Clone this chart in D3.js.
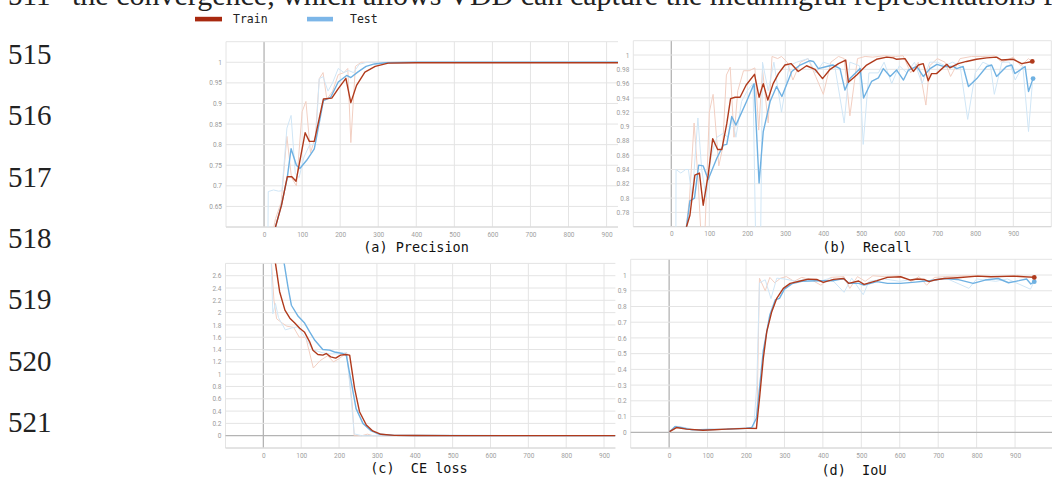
<!DOCTYPE html>
<html><head><meta charset="utf-8">
<script src="https://cdn.jsdelivr.net/npm/d3@7"></script>
<style>html,body{margin:0;padding:0;background:#fff;overflow:hidden}</style>
</head><body>
<svg id="c" width="1052" height="479"></svg>
<script>
// ---------- DATA ----------
const xTicks = [0,100,200,300,400,500,600,700,800,900];
const lineNumbers = ["515","516","517","518","519","520","521"];
const topLineNumber = "511";
const topLineText = "the convergence, which allows VDD can capture the meaningful representations for feature";
const legendLabels = ["Train","Test"];
const panelTitles = ["(a) Precision","(b)  Recall","(c)  CE loss","(d)  IoU"];

const precisionTicks = [0.65,0.7,0.75,0.8,0.85,0.9,0.95,1];
const precisionTicksLbl = ["0.65","0.7","0.75","0.8","0.85","0.9","0.95","1"];
const precisionTrainX = [25,30,46,61,73,84,108,119,132,156,178,195,215,228,243,265,292,326,400,500,600,700,800,900,930];
const precisionTrainY = [0.585,0.60,0.653,0.722,0.722,0.711,0.829,0.808,0.808,0.911,0.913,0.936,0.961,0.902,0.944,0.976,0.990,0.998,0.999,0.999,0.999,0.999,0.999,0.999,0.999];
const precisionTestX = [25,30,46,61,71,85,94,112,132,156,175,195,217,228,246,268,290,320,400,930];
const precisionTestY = [0.585,0.60,0.655,0.72,0.79,0.75,0.742,0.762,0.79,0.907,0.915,0.952,0.968,0.963,0.976,0.99,0.996,0.999,1.0,1.0];
const precisionTrainRawX = [15,30,45,60,72,85,100,110,122,135,145,155,165,180,195,210,220,228,240,255,270,300,930];
const precisionTrainRawY = [0.55,0.62,0.66,0.82,0.72,0.70,0.88,0.905,0.78,0.82,0.96,0.975,0.91,0.93,0.97,0.975,0.985,0.805,0.99,1.0,1.0,1.0,1.0];
const precisionTestRawX = [10,11,25,38,47,60,71,82,92,105,120,135,145,155,168,180,195,210,222,235,250,270,300,930];
const precisionTestRawY = [0.55,0.686,0.69,0.687,0.688,0.84,0.871,0.73,0.72,0.77,0.8,0.8,0.96,0.965,0.93,0.95,0.985,0.975,0.98,0.975,0.995,1.0,1.0,1.0];

const recallTicks = [0.78,0.8,0.82,0.84,0.86,0.88,0.9,0.92,0.94,0.96,0.98,1];
const recallTicksLbl = ["0.78","0.8","0.82","0.84","0.86","0.88","0.9","0.92","0.94","0.96","0.98","1"];
const recallTrainX = [35,40,49,62,74,84,97,109,122,133,146,156,168,181,197,219,231,242,254,268,282,299,315,334,356,378,398,418,440,459,466,488,514,540,567,584,593,615,637,650,663,676,685,698,725,733,755,777,803,830,856,869,900,922,950];
const recallTrainY = [0.74,0.76,0.776,0.832,0.835,0.79,0.832,0.883,0.868,0.868,0.904,0.939,0.941,0.941,0.958,0.973,0.941,0.960,0.937,0.960,0.974,0.986,0.988,0.977,0.985,0.980,0.967,0.980,0.988,0.993,0.962,0.972,0.986,0.994,0.997,0.996,0.994,0.995,0.977,0.986,0.988,0.964,0.974,0.974,0.987,0.982,0.988,0.991,0.994,0.996,0.997,0.993,0.994,0.988,0.991];
const recallTestX = [35,49,61,72,84,97,120,137,146,159,170,198,218,231,242,260,277,291,317,339,365,374,387,409,426,444,457,470,497,506,527,545,558,576,593,611,624,646,663,681,699,716,742,751,768,782,804,830,843,856,882,896,904,931,940,952];
const recallTestY = [0.74,0.796,0.80,0.846,0.845,0.826,0.856,0.874,0.875,0.914,0.902,0.935,0.960,0.821,0.893,0.935,0.956,0.942,0.977,0.986,0.992,0.991,0.981,0.984,0.986,0.981,0.951,0.967,0.981,0.940,0.963,0.968,0.981,0.970,0.979,0.965,0.979,0.984,0.970,0.981,0.987,0.984,0.984,0.981,0.984,0.956,0.967,0.984,0.986,0.970,0.984,0.986,0.974,0.984,0.949,0.967];
const recallTrainRawX = [35,48,60,70,78,85,100,110,125,135,145,155,165,175,190,205,220,230,240,255,265,280,290,305,320,340,360,380,400,420,440,455,470,490,510,530,560,590,610,630,650,670,680,700,720,735,760,790,820,850,870,900,920,940,950];
const recallTrainRawY = [0.74,0.80,0.905,0.83,0.75,0.70,0.92,0.945,0.845,0.87,0.972,0.983,0.885,0.95,0.978,0.978,0.982,0.895,0.98,0.905,0.998,0.995,0.998,0.99,0.965,0.99,0.995,0.97,0.945,0.99,0.998,0.995,0.915,0.995,0.998,0.997,0.999,0.998,0.999,0.975,0.99,0.93,0.985,0.995,0.99,0.97,0.995,0.998,0.998,0.999,0.99,0.997,0.985,0.995,0.99];
const recallTestRawX = [12,12.5,25,38,45,55,70,80,92,105,120,135,150,160,170,185,200,215,222,235,240,255,270,290,310,330,360,380,400,430,455,470,495,505,520,545,560,580,600,620,640,660,680,700,720,740,760,780,800,820,840,850,870,890,905,925,940,950];
const recallTestRawY = [0.74,0.84,0.835,0.84,0.84,0.80,0.912,0.84,0.80,0.86,0.885,0.89,0.885,0.912,0.885,0.935,0.95,0.96,0.74,0.74,0.99,0.95,0.99,0.92,0.985,0.99,0.995,0.975,0.99,0.985,0.905,0.99,0.985,0.875,0.975,0.975,0.99,0.96,0.985,0.975,0.99,0.96,0.99,0.99,0.985,0.99,0.985,0.91,0.975,0.99,0.985,0.945,0.99,0.99,0.965,0.985,0.893,0.96];

const lossTicks = [0,0.2,0.4,0.6,0.8,1,1.2,1.4,1.6,1.8,2,2.2,2.4,2.6];
const lossTicksLbl = ["0","0.2","0.4","0.6","0.8","1","1.2","1.4","1.6","1.8","2","2.2","2.4","2.6"];
const lossTrainX = [20,32,43,57,70,83,96,109,122,131,144,157,166,178,191,204,217,228,241,254,272,289,311,346,400,500,600,700,800,900,930];
const lossTrainY = [3.4,2.80,2.34,2.04,1.91,1.83,1.745,1.68,1.53,1.39,1.32,1.31,1.335,1.28,1.26,1.31,1.32,1.31,0.77,0.39,0.174,0.077,0.023,0.005,0.002,0.001,0.001,0.001,0.001,0.001,0.001];
const lossTestX = [45,55,65,74,92,109,122,136,157,175,188,210,219,232,245,263,285,307,346,400,930];
const lossTestY = [3.4,2.80,2.42,2.12,1.94,1.83,1.69,1.55,1.40,1.39,1.36,1.335,1.31,0.88,0.44,0.20,0.077,0.023,0.005,0.002,0.001];
const lossTrainRawX = [15,28,35,50,62,80,95,112,132,150,170,185,200,220,235,240,260,275,290,930];
const lossTrainRawY = [3.4,2.2,1.9,1.83,1.78,1.76,1.60,1.60,1.10,1.22,1.30,1.20,1.25,1.35,0.5,0.0,0.0,0.025,0.0,0.0];
const lossTestRawX = [18,25,32,40,58,75,90,110,130,155,175,200,220,232,240,260,930];
const lossTestRawY = [3.4,1.98,2.15,1.92,1.72,1.75,1.77,1.60,1.40,1.35,1.33,1.33,1.35,0.6,0.03,0.0,0.0];

const iouTicks = [0,0.1,0.2,0.3,0.4,0.5,0.6,0.7,0.8,0.9,1];
const iouTicksLbl = ["0","0.1","0.2","0.3","0.4","0.5","0.6","0.7","0.8","0.9","1"];
const iouTrainX = [1,19,45,88,149,201,227,236,245,254,267,280,297,315,341,362,384,401,428,454,467,493,507,541,568,602,628,646,663,676,690,716,750,802,837,898,950];
const iouTrainY = [0.004,0.03,0.02,0.013,0.02,0.025,0.025,0.237,0.47,0.64,0.767,0.852,0.915,0.947,0.962,0.974,0.972,0.953,0.972,0.978,0.947,0.962,0.941,0.964,0.985,0.989,0.968,0.975,0.972,0.958,0.968,0.978,0.983,0.993,0.989,0.993,0.985];
const iouTestX = [1,15,30,60,100,150,200,215,227,236,245,262,276,287,300,320,345,384,428,454,467,493,507,541,568,602,640,680,716,750,791,822,856,883,910,930,941,950];
const iouTestY = [0.004,0.035,0.03,0.015,0.018,0.02,0.025,0.03,0.089,0.30,0.52,0.746,0.842,0.852,0.91,0.945,0.96,0.964,0.964,0.978,0.947,0.947,0.936,0.958,0.947,0.947,0.955,0.965,0.978,0.972,0.947,0.968,0.978,0.951,0.964,0.975,0.943,0.958];
const iouTrainRawX = [1,20,50,100,150,200,228,235,250,262,275,290,305,325,345,370,395,420,455,470,490,510,530,560,600,630,650,670,690,720,760,800,850,900,950];
const iouTrainRawY = [0.0,0.03,0.02,0.01,0.02,0.025,0.02,0.98,0.90,0.985,0.95,0.98,0.99,0.96,0.985,0.97,0.935,0.985,0.99,0.915,0.99,0.96,0.995,0.99,0.995,0.96,0.99,0.935,0.985,0.99,0.995,0.995,0.99,0.995,0.99];
const iouTestRawX = [1,15,40,80,150,200,220,228,235,250,265,280,300,330,360,390,420,455,475,505,520,560,600,640,680,720,780,800,850,880,940,950];
const iouTestRawY = [0.0,0.04,0.03,0.01,0.02,0.03,0.03,0.3,0.95,0.97,0.85,0.98,0.975,0.96,0.975,0.96,0.98,0.89,0.98,0.875,0.96,0.975,0.96,0.975,0.96,0.98,0.915,0.975,0.96,0.975,0.91,0.96];

// ---------- STYLE ----------
const RED = "#b03a1c", BLUE = "#6fb1e2", RED_RAW = "#f2cfc2", BLUE_RAW = "#d0e6f6";
const svg = d3.select("#c");

function zip(xs, ys){ return xs.map((x,i)=>[x, ys[i]]); }

function panel(cfg){
  const x = d3.scaleLinear().domain(cfg.xd).range(cfg.xr);
  const y = d3.scaleLinear().domain(cfg.yd).range(cfg.yr);
  const g = svg.append("g");
  const id = "clip" + cfg.key;
  svg.append("clipPath").attr("id", id).append("rect")
    .attr("x", cfg.xr[0]).attr("y", cfg.yr[1]).attr("width", cfg.xr[1]-cfg.xr[0]).attr("height", cfg.yr[0]-cfg.yr[1]);
  const vx = d3.range(-100, cfg.xd[1]+1, 100);
  g.selectAll(".vg").data(vx).join("line")
    .attr("x1", d=>x(d)).attr("x2", d=>x(d)).attr("y1", cfg.yr[1]).attr("y2", cfg.yr[0])
    .attr("stroke", d=> d===0 ? "#b4b4b4" : "#e4e4e4").attr("stroke-width", d=>d===0?1.3:1);
  g.selectAll(".hg").data(cfg.grid).join("line")
    .attr("x1", cfg.xr[0]).attr("x2", cfg.xr[1]).attr("y1", d=>y(d)).attr("y2", d=>y(d))
    .attr("stroke", d=> (d===0 && cfg.zero) ? "#b4b4b4" : "#e4e4e4").attr("stroke-width", d=>(d===0&&cfg.zero)?1.3:1);
  g.append("line").attr("x1", cfg.xr[0]).attr("x2", cfg.xr[1]).attr("y1", cfg.yr[0]).attr("y2", cfg.yr[0]).attr("stroke","#d6d6d6");
  const ya = d3.axisLeft(y).tickValues(cfg.ticks).tickFormat((d,i)=>cfg.tickLbl[i]).tickSize(0).tickPadding(4);
  const yg = g.append("g").attr("transform", `translate(${cfg.xr[0]},0)`).call(ya);
  yg.select(".domain").remove();
  yg.selectAll("text").attr("fill","#9a9a9a").style("font-family","Roboto").style("font-size","6.5px");
  const xa = d3.axisBottom(x).tickValues(xTicks).tickFormat(d3.format("d")).tickSize(0).tickPadding(5);
  const xg = g.append("g").attr("transform", `translate(0,${cfg.yr[0]})`).call(xa);
  xg.select(".domain").remove();
  xg.selectAll("text").attr("fill","#a0a0a0").style("font-family","Roboto").style("font-size","6.5px");
  const line = d3.line().x(d=>x(d[0])).y(d=>y(d[1]));
  const lg = g.append("g").attr("clip-path", `url(#${id})`);
  lg.append("path").datum(zip(cfg.trRawX, cfg.trRawY)).attr("d", line).attr("fill","none").attr("stroke",RED_RAW).attr("stroke-width",1);
  lg.append("path").datum(zip(cfg.teRawX, cfg.teRawY)).attr("d", line).attr("fill","none").attr("stroke",BLUE_RAW).attr("stroke-width",1);
  lg.append("path").datum(zip(cfg.teX, cfg.teY)).attr("d", line).attr("fill","none").attr("stroke",BLUE).attr("stroke-width",1.4).attr("stroke-linejoin","round");
  lg.append("path").datum(zip(cfg.trX, cfg.trY)).attr("d", line).attr("fill","none").attr("stroke",RED).attr("stroke-width",1.4).attr("stroke-linejoin","round");
  if (cfg.dots){
    const tl = cfg.trX.length-1, el = cfg.teX.length-1;
    g.append("circle").attr("cx", x(cfg.teX[el])).attr("cy", y(cfg.teY[el])).attr("r",2.4).attr("fill",BLUE);
    g.append("circle").attr("cx", x(cfg.trX[tl])).attr("cy", y(cfg.trY[tl])).attr("r",2.4).attr("fill",RED);
  }
  svg.append("text").attr("x", cfg.title[0]).attr("y", cfg.title[1]).attr("text-anchor","middle")
    .attr("xml:space","preserve").style("white-space","pre")
    .style("font-family","DejaVu Sans Mono").style("font-size","13.5px").attr("fill","#111").text(cfg.titleText);
}

panel({key:"a", xd:[-100,930], xr:[226,618], yd:[0.6,1.05], yr:[227,41.7],
  grid:[0.6,0.65,0.7,0.75,0.8,0.85,0.9,0.95,1,1.05], ticks:precisionTicks, tickLbl:precisionTicksLbl,
  trX:precisionTrainX, trY:precisionTrainY, teX:precisionTestX, teY:precisionTestY,
  trRawX:precisionTrainRawX, trRawY:precisionTrainRawY, teRawX:precisionTestRawX, teRawY:precisionTestRawY,
  title:[416,251.5], titleText:panelTitles[0]});

panel({key:"b", xd:[-100,1000], xr:[633.3,1051.3], yd:[0.76,1.02], yr:[226.7,40.7],
  grid:d3.range(0.76,1.021,0.02), ticks:recallTicks, tickLbl:recallTicksLbl,
  trX:recallTrainX, trY:recallTrainY, teX:recallTestX, teY:recallTestY,
  trRawX:recallTrainRawX, trRawY:recallTrainRawY, teRawX:recallTestRawX, teRawY:recallTestRawY,
  dots:true, title:[867,252], titleText:panelTitles[1]});

panel({key:"c", xd:[-100,930], xr:[225.5,615.4], yd:[-0.2,2.8], yr:[448,263.4], zero:true,
  grid:[-0.2,0,0.2,0.4,0.6,0.8,1,1.2,1.4,1.6,1.8,2,2.2,2.4,2.6,2.8], ticks:lossTicks, tickLbl:lossTicksLbl,
  trX:lossTrainX, trY:lossTrainY, teX:lossTestX, teY:lossTestY,
  trRawX:lossTrainRawX, trRawY:lossTrainRawY, teRawX:lossTestRawX, teRawY:lossTestRawY,
  title:[419,472.5], titleText:panelTitles[2]});

panel({key:"d", xd:[-100,1000], xr:[630.7,1053.5], yd:[-0.1,1.1], yr:[448,259.3], zero:true,
  grid:[-0.1,0,0.1,0.2,0.3,0.4,0.5,0.6,0.7,0.8,0.9,1,1.1], ticks:iouTicks, tickLbl:iouTicksLbl,
  trX:iouTrainX, trY:iouTrainY, teX:iouTestX, teY:iouTestY,
  trRawX:iouTrainRawX, trRawY:iouTrainRawY, teRawX:iouTestRawX, teRawY:iouTestRawY,
  dots:true, title:[854,475], titleText:panelTitles[3]});

// legend
const lg = svg.append("g");
lg.append("rect").attr("x",195).attr("y",16.8).attr("width",27).attr("height",4.6).attr("fill","#a8290f");
lg.append("text").attr("x",233).attr("y",23).text(legendLabels[0]).style("font-family","DejaVu Sans Mono").style("font-size","11.5px").attr("fill","#222");
lg.append("rect").attr("x",307).attr("y",16.8).attr("width",26).attr("height",4.6).attr("fill","#7cb6e8");
lg.append("text").attr("x",350).attr("y",23).text(legendLabels[1]).style("font-family","DejaVu Sans Mono").style("font-size","11.5px").attr("fill","#222");

// page text (the top line is cut by the crop, as in the reference)
const serif = "Liberation Serif";
svg.append("text").attr("x",8).attr("y",5).text(topLineNumber).style("font-family",serif).style("font-size","29px").attr("fill","#222");
svg.append("text").attr("x",72).attr("y",5).text(topLineText).style("font-family",serif).style("font-size","30px").attr("fill","#222");
svg.selectAll(".ln").data(lineNumbers).join("text")
  .attr("x",8).attr("y",(d,i)=>64 + i*61.3).text(d=>d)
  .style("font-family",serif).style("font-size","29px").attr("fill","#222");
</script>
</body></html>
